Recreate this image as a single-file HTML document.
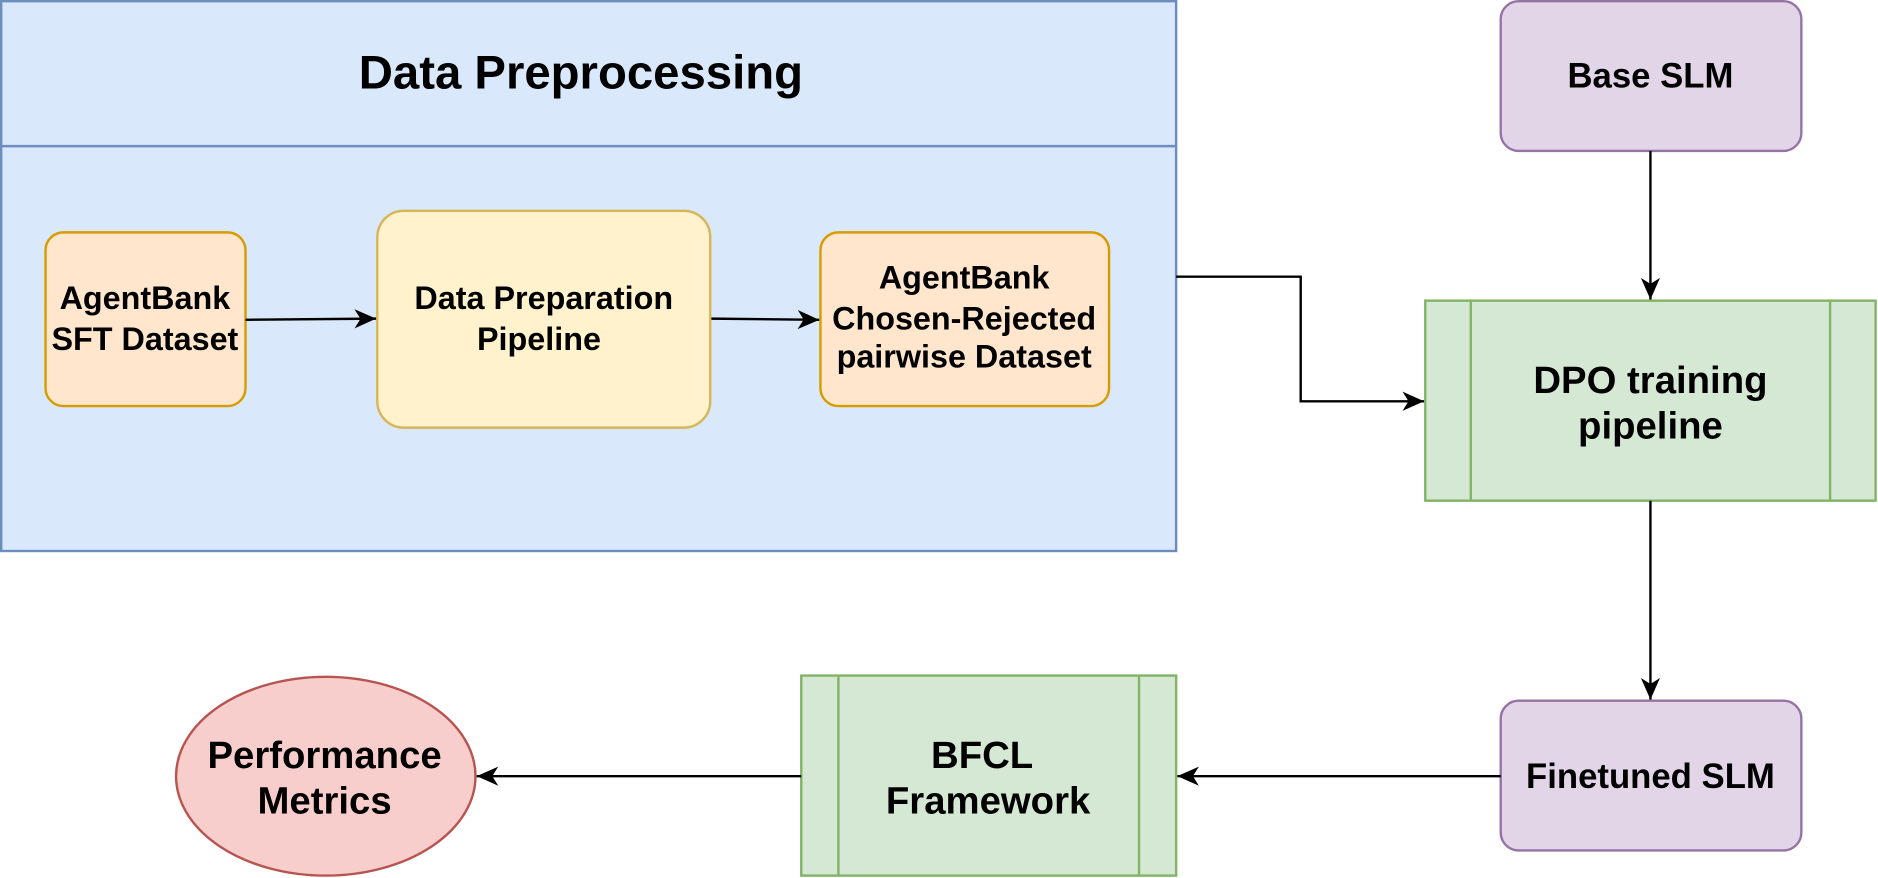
<!DOCTYPE html>
<html><head><style>html,body{margin:0;padding:0;background:#fff}svg{display:block}text{font-family:"Liberation Sans",sans-serif;font-weight:bold;fill:#000;text-anchor:middle}</style></head><body>
<svg width="1878" height="878" viewBox="0 0 1568 733" preserveAspectRatio="none" xmlns="http://www.w3.org/2000/svg">
<defs>
<marker id="b" markerWidth="20" markerHeight="20" refX="18" refY="8" orient="auto" markerUnits="userSpaceOnUse"><path d="M0,0 L18,8 L0,16 L5,8 Z" fill="#000"/></marker></defs>
<rect x="1" y="1" width="981" height="459" fill="#dae8fc" stroke="#6c8ebf" stroke-width="2"/>
<line x1="1" y1="122" x2="982" y2="122" stroke="#6c8ebf" stroke-width="2"/>
<text x="485" y="74" font-size="39.5">Data Preprocessing</text>
<rect x="38" y="194" width="167" height="145" rx="15" fill="#ffe6cc" stroke="#d79b00" stroke-width="2"/>
<text x="121" y="258" font-size="27">AgentBank</text><text x="121" y="292" font-size="27">SFT Dataset</text>
<rect x="315" y="176" width="278" height="181" rx="22" fill="#fff2cc" stroke="#d6b656" stroke-width="2"/>
<text x="454" y="258" font-size="27">Data Preparation</text><text x="450" y="292" font-size="27">Pipeline</text>
<rect x="685" y="194" width="241" height="145" rx="15" fill="#ffe6cc" stroke="#d79b00" stroke-width="2"/>
<text x="805" y="241" font-size="27">AgentBank</text><text x="805" y="275" font-size="27">Chosen-Rejected</text><text x="805" y="307" font-size="27">pairwise Dataset</text>
<rect x="1253" y="1" width="251" height="125" rx="15" fill="#e1d5e7" stroke="#9673a6" stroke-width="2"/>
<text x="1378" y="73" font-size="29">Base SLM</text>
<rect x="1190" y="251" width="376" height="167" fill="#d5e8d4" stroke="#82b366" stroke-width="2"/>
<line x1="1228" y1="251" x2="1228" y2="418" stroke="#82b366" stroke-width="2"/><line x1="1528" y1="251" x2="1528" y2="418" stroke="#82b366" stroke-width="2"/>
<text x="1378" y="328" font-size="32">DPO training</text><text x="1378" y="366" font-size="32">pipeline</text>
<rect x="1253" y="585" width="251" height="125" rx="15" fill="#e1d5e7" stroke="#9673a6" stroke-width="2"/>
<text x="1378" y="658" font-size="29">Finetuned SLM</text>
<rect x="669" y="564" width="313" height="167" fill="#d5e8d4" stroke="#82b366" stroke-width="2"/>
<line x1="700" y1="564" x2="700" y2="731" stroke="#82b366" stroke-width="2"/><line x1="951" y1="564" x2="951" y2="731" stroke="#82b366" stroke-width="2"/>
<text x="820" y="641" font-size="32">BFCL</text><text x="825" y="679" font-size="32">Framework</text>
<ellipse cx="272" cy="648" rx="125" ry="83" fill="#f8cecc" stroke="#b85450" stroke-width="2"/>
<text x="271" y="641" font-size="32">Performance</text><text x="271" y="679" font-size="32">Metrics</text>
<g stroke="#000" stroke-width="2" fill="none">
<path d="M205,267 L314,266" marker-end="url(#b)"/>
<path d="M594,266 L684,267" marker-end="url(#b)"/>
<path d="M982,231 L1086,231 L1086,335 L1189,335" marker-end="url(#b)"/>
<path d="M1378,126 L1378,250" marker-end="url(#b)"/>
<path d="M1378,418 L1378,584" marker-end="url(#b)"/>
<path d="M1253,648 L983,648" marker-end="url(#b)"/>
<path d="M669,648 L398,648" marker-end="url(#b)"/>
</g>
</svg></body></html>
